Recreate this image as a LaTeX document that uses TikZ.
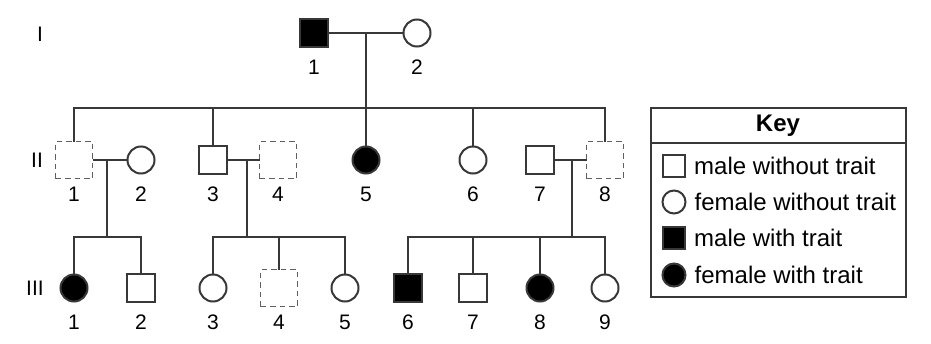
\documentclass[tikz,border=0pt]{standalone}
\usepackage{fontspec}
\setmainfont{Liberation Sans}
\usepackage{xcolor}
\usetikzlibrary{positioning}

\definecolor{lin}{HTML}{383838}
\definecolor{dash}{HTML}{606060}

\tikzset{
    person/.style={draw=lin, line width=2pt, inner sep=0pt, outer sep=0pt},
    male/.style={person, rectangle, minimum size=28pt},
    female/.style={person, circle, minimum size=27pt},
    malet/.style={male, fill=black},
    femalet/.style={female, fill=black},
    unsure/.style={draw=dash, line width=1.6pt, dash pattern=on 5.5pt off 4pt,
        rectangle, minimum size=37pt, inner sep=0pt, outer sep=0pt},
    kin/.style={draw=lin, line width=1.9pt},
    num/.style={font=\fontsize{21}{25}\selectfont, inner sep=0pt},
    keytext/.style={font=\fontsize{24}{28}\selectfont, inner sep=0pt},
}

\begin{document}
\begin{tikzpicture}[x=1pt, y=-1pt]
        \useasboundingbox (0,0) rectangle (931,343);

        \foreach \n/\s/\x/\y/\k in {I1/malet/314/33/1, I2/female/417/33/2,
                II1/unsure/74/160/1, II2/female/141/160/2, II3/male/213/160/3,
                II4/unsure/278/160/4, II5/femalet/366/160/5, II6/female/473/160/6,
                II7/male/540/160/7, II8/unsure/605/160/8,
                III1/femalet/74/288/1, III2/male/141/288/2, III3/female/213/288/3,
                III4/unsure/279/288/4, III5/female/345/288/5, III6/malet/408/288/6,
                III7/male/473/288/7, III8/femalet/540/288/8, III9/female/605/288/9} {
            \node[\s] (\n) at (\x,\y) {};
            \node[num] (n\n) at (\x,\y+34) {\k};
        }

        \node[num] (gI) at (40,34) {I};
        \node[num] (gII) at (37,160) {II};
        \node[num] (gIII) at (35,288) {III};

        \coordinate (mI) at (366,33);
        \coordinate (sII) at (366,108);
        \coordinate (mII1) at (107,160);
        \coordinate (sIII1) at (107,237);
        \coordinate (mII3) at (247,160);
        \coordinate (sIII3) at (247,237);
        \coordinate (mII7) at (572,160);
        \coordinate (sIII6) at (572,237);

        \draw[kin] (I1) -- (I2);
        \draw[kin] (mI) -- (II5);
        \draw[kin] (II1) |- (sII) -| (II8);
        \draw[kin] (II3) -- (II3 |- sII);
        \draw[kin] (II6) -- (II6 |- sII);

        \draw[kin] (II1) -- (II2);
        \draw[kin] (mII1) -- (sIII1);
        \draw[kin] (III1) |- (sIII1) -| (III2);

        \draw[kin] (II3) -- (II4);
        \draw[kin] (mII3) -- (sIII3);
        \draw[kin] (III3) |- (sIII3) -| (III5);
        \draw[kin] (III4) -- (III4 |- sIII3);

        \draw[kin] (II7) -- (II8);
        \draw[kin] (mII7) -- (sIII6);
        \draw[kin] (III6) |- (sIII6) -| (III9);
        \draw[kin] (III7) -- (III7 |- sIII6);
        \draw[kin] (III8) -- (III8 |- sIII6);

        % key
        \draw[kin] (651,108) rectangle (906,297);
        \draw[kin] (651,143) -- (906,143);
        \node[keytext, font=\fontsize{24}{28}\selectfont\bfseries] (key) at (778,126) {Key};
        \node[male, minimum size=22pt] (k1) at (674,166) {};
        \node[female, minimum size=23pt] (k2) at (674,202) {};
        \node[malet, minimum size=22pt] (k3) at (674,238) {};
        \node[femalet, minimum size=23pt] (k4) at (674,275) {};
        \node[keytext, right=9pt of k1] (t1) {male without trait};
        \node[keytext, right=9pt of k2] (t2) {female without trait};
        \node[keytext, right=9pt of k3] (t3) {male with trait};
        \node[keytext, right=9pt of k4] (t4) {female with trait};
\end{tikzpicture}
\end{document}
